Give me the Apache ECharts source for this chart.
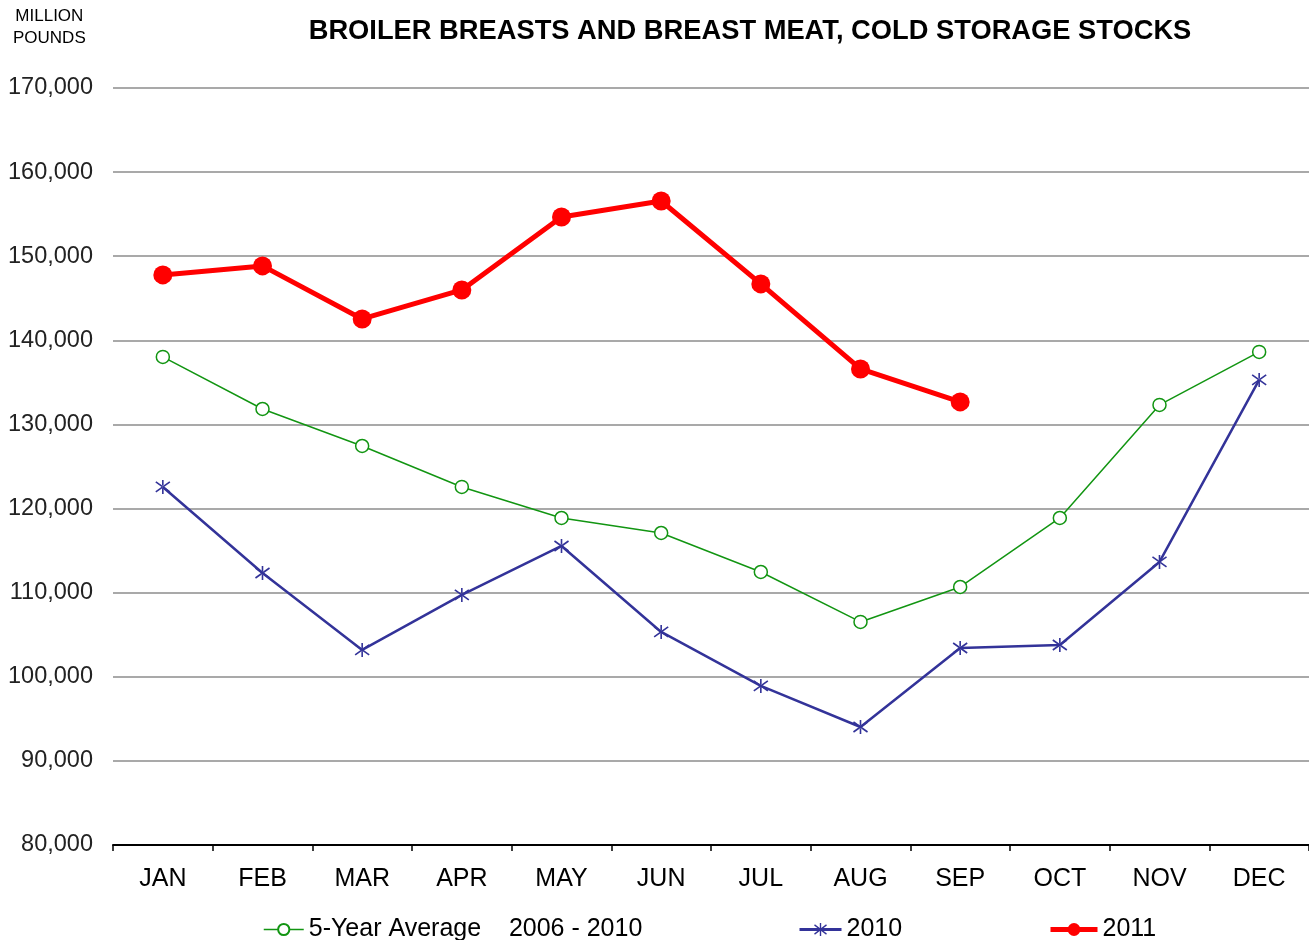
<!DOCTYPE html>
<html>
<head>
<meta charset="utf-8">
<script src="https://cdn.jsdelivr.net/npm/echarts@6/dist/echarts.min.js"></script>
<style>
html,body{margin:0;padding:0;background:#fff;}
#chart{width:1309px;height:940px;}
</style>
</head>
<body>
<div id="chart"></div>
<script>
var months = ["JAN","FEB","MAR","APR","MAY","JUN","JUL","AUG","SEP","OCT","NOV","DEC"];
var avg5 = [138030,131840,127440,122570,118880,117100,112460,106520,110680,118880,132320,138620];
var y2010 = [122570,112340,103190,109730,115550,105330,98910,94030,103420,103780,113650,135290];
var y2011 = [147780,148850,142540,145990,154670,156570,146710,136600,132680];

var avgName = "5-Year Average    2006 - 2010";
// asterisk marker built from three thin bars
var star = "path://M-0.8,-7 L0.8,-7 L0.8,7 L-0.8,7 Z " +
	"M-7.47,-4.35 L6.53,5.65 L7.47,4.35 L-6.53,-5.65 Z " +
	"M-6.53,5.65 L7.47,-4.35 L6.53,-5.65 L-7.47,4.35 Z";

var chart = echarts.init(document.getElementById("chart"));
var font = "Liberation Sans";
var legText = {fontFamily: font, fontSize: 25, color: "#000"};
chart.setOption({
	animation: false,
	title: {
		text: "BROILER BREASTS AND BREAST MEAT, COLD STORAGE STOCKS",
		left: 745, top: 13, textAlign: "center",
		textStyle: {fontFamily: font, fontSize: 27.3, fontWeight: "bold", color: "#000"}
	},
	graphic: [{
		type: "text", left: 13, top: 5,
		style: {text: "MILLION\nPOUNDS", font: "17px " + font, fill: "#000", textAlign: "center", lineHeight: 22}
	}],
	legend: [{
		data: [avgName], left: 258, top: 912, itemWidth: 40, itemHeight: 14, itemGap: 4,
		lineStyle: {width: 1.5},
		textStyle: legText
	}, {
		data: ["2010"], left: 793, top: 912, itemWidth: 42, itemHeight: 16,
		lineStyle: {width: 3},
		textStyle: legText
	}, {
		data: ["2011"], left: 1043, top: 912, itemWidth: 47, itemHeight: 16,
		lineStyle: {width: 5},
		textStyle: legText
	}],
	grid: {left: 113, right: 0, top: 88, bottom: 95, containLabel: false},
	xAxis: {
		type: "category",
		data: months,
		boundaryGap: true,
		axisLine: {lineStyle: {color: "#000", width: 2}},
		axisTick: {show: true, length: 6, lineStyle: {color: "#000", width: 1.5}},
		axisLabel: {fontFamily: font, fontSize: 25, color: "#000", margin: 22}
	},
	yAxis: {
		type: "value",
		min: 80000, max: 170000, interval: 10000,
		axisLine: {show: false},
		axisTick: {show: false},
		axisLabel: {
			fontFamily: font, fontSize: 23.5, color: "#222", margin: 20,
			formatter: function (v) { return v.toLocaleString("en-US"); }
		},
		splitLine: {lineStyle: {color: "#8c8c8c", width: 1.5}}
	},
	series: [{
		name: avgName,
		type: "line",
		data: avg5,
		symbol: "circle",
		symbolSize: 13,
		lineStyle: {color: "#129512", width: 1.5},
		itemStyle: {color: "#fff", borderColor: "#129512", borderWidth: 1.5}
	}, {
		name: "2010",
		type: "line",
		data: y2010,
		symbol: star,
		symbolSize: [15, 14],
		lineStyle: {color: "#333399", width: 2.5},
		itemStyle: {color: "#333399"}
	}, {
		name: "2011",
		type: "line",
		data: y2011,
		symbol: "circle",
		symbolSize: 19,
		lineStyle: {color: "#ff0000", width: 5},
		itemStyle: {color: "#ff0000"},
		z: 5
	}]
});
</script>
</body>
</html>
